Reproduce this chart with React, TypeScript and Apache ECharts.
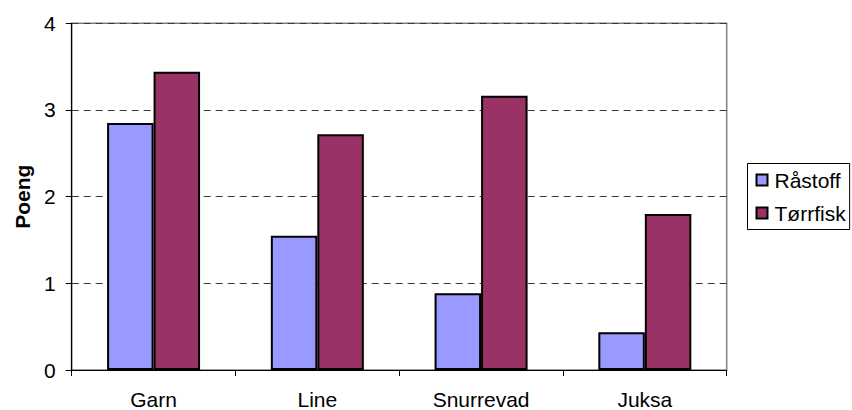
import React, { useEffect, useRef } from "react";
import * as echarts from "echarts";

const categories = ["Garn", "Line", "Snurrevad", "Juksa"];
const seriesNames = ["Råstoff", "Tørrfisk"];
const raastoff = [2.85, 1.55, 0.885, 0.435];
const toerrfisk = [3.44, 2.72, 3.165, 1.8];
const yTicks = [0, 1, 2, 3, 4];

export default function App() {
  const ref = useRef<HTMLDivElement>(null);
  useEffect(() => {
    if (!ref.current) return;
    const chart = echarts.init(ref.current, null, { renderer: "svg" });
    const font = "'Liberation Sans', Arial, sans-serif";
    chart.setOption({
      animation: false,
      backgroundColor: "#ffffff",
      textStyle: { fontFamily: font },
      grid: {
        left: 71.7,
        top: 23.3,
        right: 125.3,
        bottom: 40,
        show: true,
        borderColor: "#808080",
        borderWidth: 1.5,
        containLabel: false,
      },
      legend: {
        orient: "vertical",
        left: 747.5,
        top: 163.5,
        data: seriesNames,
        icon: "rect",
        itemWidth: 11,
        itemHeight: 11,
        itemGap: 12,
        padding: [6, 4, 6, 8],
        borderColor: "#000000",
        borderWidth: 1,
        textStyle: { fontSize: 21, lineHeight: 21, color: "#000", fontFamily: font, padding: [0, 0, 0, 2] },
      },
      xAxis: {
        type: "category",
        data: categories,
        axisLine: { lineStyle: { color: "#000", width: 1.2 } },
        axisTick: { show: true, length: 6, lineStyle: { color: "#000" } },
        axisLabel: { fontSize: 21, color: "#000", margin: 19, fontFamily: font },
        splitLine: { show: false },
      },
      yAxis: {
        type: "value",
        min: 0,
        max: 4,
        interval: 1,
        name: "Poeng",
        nameLocation: "middle",
        nameGap: 38,
        nameTextStyle: { fontSize: 21, fontWeight: "bold", color: "#000", fontFamily: font },
        axisLine: { show: true, lineStyle: { color: "#000", width: 1.2 } },
        axisTick: { show: true, length: 6, lineStyle: { color: "#000" } },
        axisLabel: {
          fontSize: 21,
          color: "#000",
          margin: 16,
          fontFamily: font,
          formatter: (v: number) => (yTicks.includes(v) ? String(v) : ""),
        },
        splitLine: { show: true, lineStyle: { color: "#3a3a3a", type: [7, 5], width: 1 } },
      },
      series: [
        {
          name: seriesNames[0],
          type: "bar",
          data: raastoff,
          barWidth: 46.5,
          barGap: "0%",
          itemStyle: { color: "#9999FF", borderColor: "#000", borderWidth: 2 },
        },
        {
          name: seriesNames[1],
          type: "bar",
          data: toerrfisk,
          barWidth: 46.5,
          barGap: "0%",
          itemStyle: { color: "#993366", borderColor: "#000", borderWidth: 2 },
        },
      ],
    });
    return () => chart.dispose();
  }, []);
  return <div ref={ref} style={{ width: 852, height: 410, position: "absolute", left: 0, top: 0 }} />;
}
